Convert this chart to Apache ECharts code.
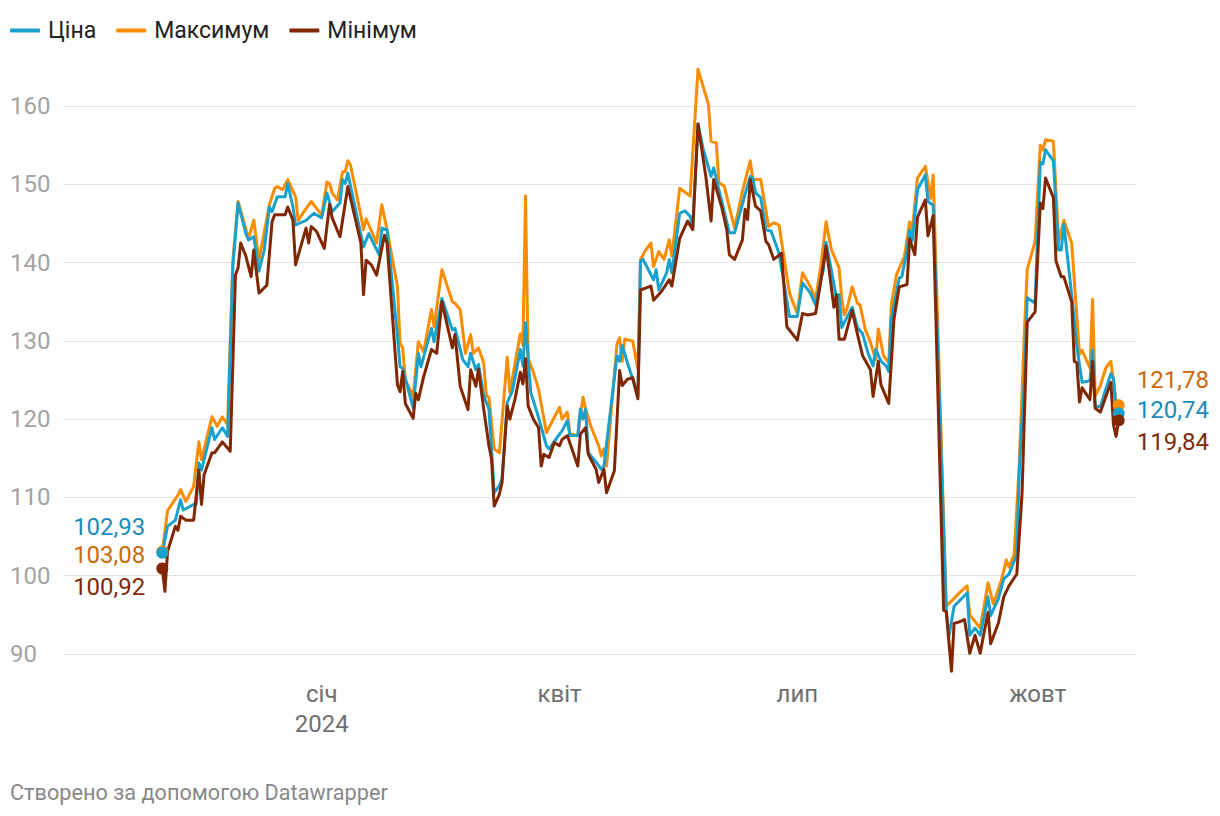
<!DOCTYPE html>
<html>
<head>
<meta charset="utf-8">
<script src="https://cdn.jsdelivr.net/npm/echarts@6/dist/echarts.min.js"></script>
<style>
  html, body { margin: 0; padding: 0; background: #fff; }
  #chart { width: 1220px; height: 816px; }
</style>
</head>
<body>
<div id="chart"></div>
<script>
// Ціна
const priceDates = ['2023-11-01','2023-11-03','2023-11-06','2023-11-08','2023-11-09','2023-11-13','2023-11-14','2023-11-15','2023-11-16','2023-11-20','2023-11-21','2023-11-24','2023-11-26','2023-11-28','2023-11-30','2023-12-03','2023-12-04','2023-12-06','2023-12-08','2023-12-10','2023-12-12','2023-12-13','2023-12-15','2023-12-18','2023-12-19','2023-12-21','2023-12-22','2023-12-26','2023-12-29',
  '2024-01-01','2024-01-03','2024-01-05','2024-01-08','2024-01-09','2024-01-10','2024-01-11','2024-01-17','2024-01-19','2024-01-23','2024-01-24','2024-01-26','2024-01-30','2024-01-31','2024-02-01','2024-02-05','2024-02-07','2024-02-08','2024-02-12','2024-02-13','2024-02-16','2024-02-20','2024-02-21','2024-02-24','2024-02-26','2024-02-27','2024-02-29',
  '2024-03-01','2024-03-03','2024-03-05','2024-03-06','2024-03-07','2024-03-09','2024-03-10','2024-03-12','2024-03-14','2024-03-17','2024-03-18','2024-03-19','2024-03-21','2024-03-23','2024-03-24','2024-03-27','2024-03-28','2024-04-01','2024-04-02','2024-04-04','2024-04-05','2024-04-08','2024-04-09','2024-04-10','2024-04-11','2024-04-12','2024-04-15','2024-04-17','2024-04-18','2024-04-23','2024-04-24','2024-04-25','2024-04-27',
  '2024-05-01','2024-05-02','2024-05-03','2024-05-07','2024-05-08','2024-05-09','2024-05-12','2024-05-13','2024-05-14','2024-05-17','2024-05-19','2024-05-21','2024-05-22','2024-05-24','2024-05-26','2024-05-29','2024-05-30','2024-06-01','2024-06-05','2024-06-07','2024-06-11','2024-06-13','2024-06-14','2024-06-15','2024-06-17','2024-06-19','2024-06-21','2024-06-24','2024-06-28',
  '2024-07-01','2024-07-03','2024-07-06','2024-07-08','2024-07-10','2024-07-11','2024-07-12','2024-07-14','2024-07-16','2024-07-17','2024-07-18','2024-07-20','2024-07-22','2024-07-24','2024-07-26','2024-07-28','2024-07-30','2024-07-31','2024-08-02','2024-08-04','2024-08-05','2024-08-06','2024-08-09','2024-08-10','2024-08-12','2024-08-13','2024-08-14','2024-08-16','2024-08-19','2024-08-20','2024-08-22','2024-08-27','2024-08-28','2024-08-30',
  '2024-09-04','2024-09-05','2024-09-07','2024-09-09','2024-09-12','2024-09-13','2024-09-16','2024-09-18','2024-09-20','2024-09-23','2024-09-24','2024-09-26','2024-09-27','2024-09-30','2024-10-02','2024-10-03','2024-10-04','2024-10-07','2024-10-09','2024-10-10','2024-10-11','2024-10-14','2024-10-16','2024-10-18','2024-10-21','2024-10-22','2024-10-23','2024-10-25','2024-10-27','2024-10-29','2024-10-30','2024-10-31','2024-11-01'];
const priceValues = [102.93,106.3,107.1,109.7,108.4,109.1,109.1,114.4,113.5,118.9,117.4,118.9,117.8,139.5,147.6,143.7,142.9,143.3,138.9,141.6,147.1,146.5,148.4,148.4,150.1,147.1,144.8,145.4,146.3,
  145.7,148.9,146.5,147.6,150.6,150.1,151.4,142.0,143.7,141.0,144.4,144.2,130.6,126.7,126.5,121.4,128.4,126.7,131.6,129.9,135.4,131.4,131.6,127.6,126.7,128.4,126.3,
  127.0,123.0,121.3,116.2,110.6,111.5,112.3,122.1,123.6,128.9,126.8,132.3,123.4,121.3,120.2,116.6,116.2,118.1,118.5,119.8,117.9,117.9,121.3,120.0,121.3,115.7,114.5,113.6,114.0,128.1,127.4,129.4,127.2,
  123.0,140.2,140.4,137.8,139.1,136.5,138.7,140.4,138.7,146.3,146.6,145.9,144.6,157.7,154.5,151.0,152.1,149.3,143.8,143.8,148.7,151.0,150.8,148.9,148.3,144.2,144.0,141.2,133.1,
  133.1,137.4,136.1,134.6,137.8,139.1,142.6,139.1,135.4,135.9,131.7,133.0,134.3,131.7,130.9,128.5,126.8,128.9,127.4,126.8,126.1,132.8,138.0,138.2,141.5,144.1,142.8,149.3,151.2,147.8,147.3,95.8,92.2,96.1,
  97.8,92.4,93.3,92.4,97.3,94.9,97.1,99.6,100.2,102.7,113.9,125.6,135.5,134.8,152.8,152.6,154.4,153.0,141.6,141.6,144.9,135.9,129.2,124.7,124.9,128.8,121.6,121.6,123.8,125.8,125.2,121.1,120.74];

// Максимум
const highDates = ['2023-11-01','2023-11-03','2023-11-05','2023-11-07','2023-11-08','2023-11-10','2023-11-13','2023-11-15','2023-11-16','2023-11-20','2023-11-22','2023-11-24','2023-11-26','2023-11-28','2023-11-30','2023-12-04','2023-12-06','2023-12-08','2023-12-12','2023-12-14','2023-12-15','2023-12-17','2023-12-19','2023-12-22','2023-12-23','2023-12-26','2023-12-28',
  '2024-01-01','2024-01-03','2024-01-04','2024-01-05','2024-01-07','2024-01-09','2024-01-10','2024-01-11','2024-01-12','2024-01-16','2024-01-17','2024-01-18','2024-01-22','2024-01-24','2024-01-26','2024-01-30','2024-01-31','2024-02-01','2024-02-02','2024-02-05','2024-02-07','2024-02-09','2024-02-12','2024-02-13','2024-02-16','2024-02-20','2024-02-21','2024-02-23','2024-02-25','2024-02-27','2024-02-28',
  '2024-03-01','2024-03-03','2024-03-04','2024-03-05','2024-03-07','2024-03-09','2024-03-12','2024-03-13','2024-03-17','2024-03-18','2024-03-19','2024-03-20','2024-03-22','2024-03-24','2024-03-27','2024-04-01','2024-04-02','2024-04-04','2024-04-05','2024-04-08','2024-04-10','2024-04-11','2024-04-13','2024-04-16','2024-04-17','2024-04-18','2024-04-19','2024-04-23','2024-04-24','2024-04-25','2024-04-26','2024-04-29',
  '2024-05-01','2024-05-02','2024-05-04','2024-05-06','2024-05-07','2024-05-09','2024-05-11','2024-05-13','2024-05-14','2024-05-17','2024-05-21','2024-05-24','2024-05-28','2024-05-29','2024-05-31','2024-06-01','2024-06-03','2024-06-07','2024-06-10','2024-06-13','2024-06-14','2024-06-17','2024-06-20','2024-06-22','2024-06-24','2024-06-28',
  '2024-07-01','2024-07-03','2024-07-06','2024-07-08','2024-07-10','2024-07-12','2024-07-14','2024-07-17','2024-07-18','2024-07-19','2024-07-20','2024-07-22','2024-07-24','2024-07-25','2024-07-27','2024-07-29','2024-07-31','2024-08-01','2024-08-03','2024-08-05','2024-08-06','2024-08-08','2024-08-11','2024-08-13','2024-08-14','2024-08-16','2024-08-19','2024-08-21','2024-08-22','2024-08-27','2024-08-30',
  '2024-09-01','2024-09-04','2024-09-05','2024-09-06','2024-09-09','2024-09-12','2024-09-14','2024-09-17','2024-09-19','2024-09-20','2024-09-22','2024-09-24','2024-09-26','2024-09-27','2024-09-30','2024-10-02','2024-10-03','2024-10-04','2024-10-07','2024-10-09','2024-10-11','2024-10-14','2024-10-17','2024-10-18','2024-10-21','2024-10-22','2024-10-23','2024-10-25','2024-10-27','2024-10-29','2024-10-31','2024-11-01'];
const highValues = [103.08,108.3,109.3,110.3,111.0,109.5,111.4,117.1,114.8,120.3,119.1,120.3,119.3,140.3,147.8,143.1,145.4,140.3,147.4,149.5,149.7,149.3,150.6,148.4,145.4,146.9,147.8,
  146.1,150.3,150.1,148.9,148.0,151.6,151.6,153.0,152.5,146.0,144.2,145.6,142.5,147.4,144.2,136.9,129.7,129.1,125.0,122.9,129.9,128.6,134.0,131.8,139.1,135.0,134.8,134.0,128.4,130.8,128.4,
  129.1,127.2,123.0,122.8,116.2,115.7,127.9,123.4,130.9,129.4,148.5,127.7,126.0,123.8,118.3,121.5,120.0,120.9,118.1,117.9,122.8,121.3,119.1,116.6,115.3,116.2,114.0,129.6,130.4,127.4,130.2,130.0,
  126.4,140.4,141.6,142.5,139.5,141.4,140.4,142.9,140.8,149.5,148.5,164.7,160.2,155.5,155.3,150.2,149.8,144.4,149.1,153.0,150.6,150.6,144.6,145.1,144.8,136.1,
  133.5,138.7,136.9,135.4,139.5,145.2,141.7,139.3,135.4,133.3,134.1,136.9,134.8,134.6,131.5,129.8,127.6,131.5,128.1,127.2,134.6,138.5,140.8,145.2,144.1,150.8,152.3,148.2,151.2,96.1,97.1,
  97.8,98.7,94.9,94.6,93.3,99.1,96.4,99.3,102.0,101.1,102.7,114.6,131.9,139.1,142.7,155.0,154.4,155.7,155.5,142.7,145.4,142.5,128.3,128.8,126.5,135.3,122.9,124.3,126.5,127.4,122.2,121.78];

// Мінімум
const lowDates = ['2023-11-01','2023-11-02','2023-11-03','2023-11-06','2023-11-07','2023-11-08','2023-11-10','2023-11-13','2023-11-15','2023-11-16','2023-11-17','2023-11-20','2023-11-21','2023-11-24','2023-11-27','2023-11-29','2023-11-30','2023-12-01','2023-12-03','2023-12-05','2023-12-06','2023-12-08','2023-12-11','2023-12-13','2023-12-14','2023-12-18','2023-12-19','2023-12-21','2023-12-22','2023-12-26','2023-12-27','2023-12-28','2023-12-30',
  '2024-01-02','2024-01-04','2024-01-05','2024-01-08','2024-01-11','2024-01-16','2024-01-17','2024-01-18','2024-01-20','2024-01-22','2024-01-25','2024-01-26','2024-01-30','2024-01-31','2024-02-01','2024-02-02','2024-02-05','2024-02-06','2024-02-07','2024-02-09','2024-02-12','2024-02-14','2024-02-16','2024-02-20','2024-02-21','2024-02-23','2024-02-26','2024-02-27','2024-02-29',
  '2024-03-01','2024-03-03','2024-03-05','2024-03-06','2024-03-07','2024-03-09','2024-03-10','2024-03-12','2024-03-13','2024-03-15','2024-03-17','2024-03-18','2024-03-19','2024-03-20','2024-03-22','2024-03-24','2024-03-25','2024-03-26','2024-03-28','2024-03-30','2024-04-01','2024-04-02','2024-04-04','2024-04-08','2024-04-09','2024-04-11','2024-04-12','2024-04-15','2024-04-16','2024-04-18','2024-04-19','2024-04-22','2024-04-24','2024-04-25','2024-04-27','2024-04-29',
  '2024-05-01','2024-05-02','2024-05-06','2024-05-07','2024-05-10','2024-05-13','2024-05-14','2024-05-17','2024-05-20','2024-05-22','2024-05-24','2024-05-27','2024-05-29','2024-05-30','2024-06-02','2024-06-04','2024-06-05','2024-06-07','2024-06-10','2024-06-11','2024-06-12','2024-06-13','2024-06-15','2024-06-17','2024-06-19','2024-06-20','2024-06-22','2024-06-25','2024-06-27',
  '2024-07-01','2024-07-03','2024-07-05','2024-07-08','2024-07-10','2024-07-12','2024-07-15','2024-07-16','2024-07-17','2024-07-19','2024-07-22','2024-07-24','2024-07-26','2024-07-29','2024-07-30','2024-08-01','2024-08-02','2024-08-05','2024-08-07','2024-08-09','2024-08-12','2024-08-13','2024-08-15','2024-08-16','2024-08-19','2024-08-20','2024-08-22','2024-08-26','2024-08-27','2024-08-29','2024-08-30',
  '2024-09-01','2024-09-03','2024-09-05','2024-09-07','2024-09-09','2024-09-10','2024-09-12','2024-09-13','2024-09-16','2024-09-18','2024-09-20','2024-09-23','2024-09-25','2024-09-27','2024-09-30','2024-10-02','2024-10-03','2024-10-04','2024-10-07','2024-10-08','2024-10-10','2024-10-11','2024-10-14','2024-10-15','2024-10-16','2024-10-17','2024-10-18','2024-10-21','2024-10-22','2024-10-23','2024-10-25','2024-10-29','2024-10-30','2024-10-31','2024-11-01'];
const lowValues = [100.92,98.0,103.1,106.3,105.8,107.6,107.1,107.1,113.5,109.1,112.9,115.7,115.7,117.1,115.9,138.4,139.3,142.5,140.8,138.2,141.6,136.1,137.1,145.2,146.1,146.1,147.1,145.4,139.7,144.4,142.5,144.6,144.0,
  141.8,147.4,145.7,143.3,149.7,142.5,135.9,140.3,139.7,138.4,143.5,142.5,124.4,123.5,126.1,122.0,120.1,123.3,122.5,125.4,128.9,128.4,135.0,129.1,130.8,124.2,121.2,126.3,124.2,
  126.4,121.3,116.6,114.9,108.9,110.4,111.9,121.7,120.0,122.6,126.0,124.5,127.7,121.7,120.0,118.9,114.0,115.5,115.1,117.0,116.6,117.4,117.9,114.0,118.1,118.9,115.5,113.6,111.9,113.6,110.6,113.4,126.2,124.3,125.1,125.3,
  122.6,136.5,137.0,135.2,136.3,137.8,137.0,143.1,145.3,144.2,157.7,151.0,145.3,150.6,147.2,144.2,141.0,140.4,142.9,146.8,145.5,150.6,147.2,146.6,142.7,142.3,140.4,141.2,131.8,
  130.1,133.5,133.3,133.5,137.6,142.1,134.3,135.9,130.2,130.2,133.9,130.9,128.1,126.3,122.9,127.4,124.4,122.0,132.8,136.9,137.2,143.0,141.0,145.8,148.0,143.4,146.0,95.6,95.4,87.8,93.9,
  94.1,94.4,90.1,92.4,90.1,91.9,95.3,91.3,94.0,97.3,98.7,100.2,110.4,132.4,133.7,147.6,146.9,150.8,148.3,140.2,138.2,138.2,135.0,127.4,127.2,122.2,124.0,122.5,127.4,121.4,120.9,124.7,119.3,117.8,119.84];

const quarterLabels = { 0: 'січ', 3: 'квіт', 6: 'лип', 9: 'жовт' };

const FONT = 'Roboto, "Noto Sans", sans-serif';
const fmt = v => v.toFixed(2).replace('.', ',');
const firstDay = echarts.time.parse(priceDates[0]).getTime();
const lastDay = echarts.time.parse(priceDates[priceDates.length - 1]).getTime();

const pairs = (dates, values) => dates.map((d, i) => [d, values[i]]);

const endMarks = (dates, values, color, textColor, z, startDy, endDy) => ({
  symbol: 'circle',
  symbolSize: 12,
  z: z,
  itemStyle: { color: color },
  label: {
    show: true,
    color: textColor,
    fontFamily: FONT,
    fontSize: 24,
    formatter: p => fmt(p.value)
  },
  data: [
    { coord: [dates[0], values[0]], value: values[0],
      label: { position: 'left', distance: 11, offset: [0, startDy] } },
    { coord: [dates[dates.length - 1], values[values.length - 1]], value: values[values.length - 1],
      label: { position: 'right', distance: 12, offset: [0, endDy] } }
  ]
});

const lineSeries = (name, dates, values, color, textColor, z, startDy, endDy) => ({
  name: name,
  type: 'line',
  data: pairs(dates, values),
  showSymbol: false,
  clip: false,
  z: z,
  color: color,
  lineStyle: { width: 3, color: color, join: 'round' },
  emphasis: { disabled: true },
  markPoint: endMarks(dates, values, color, textColor, z + 5, startDy, endDy)
});

const chart = echarts.init(document.getElementById('chart'), null, { renderer: 'svg' });

chart.setOption({
  backgroundColor: '#fff',
  animation: false,
  textStyle: { fontFamily: FONT },
  title: {
    text: 'Створено за допомогою Datawrapper',
    left: 10,
    top: 781,
    padding: 0,
    textStyle: { fontFamily: FONT, fontSize: 21.7, fontWeight: 'normal', color: '#888' }
  },
  legend: {
    left: 10,
    top: 19,
    padding: 0,
    itemWidth: 30,
    itemHeight: 4,
    itemGap: 20,
    icon: 'roundRect',
    data: ['Ціна', 'Максимум', 'Мінімум'],
    textStyle: { fontFamily: FONT, fontSize: 23, color: '#222', padding: [0, 0, 0, 3] }
  },
  grid: { left: 63, right: 83, top: 106, bottom: 162, containLabel: false },
  xAxis: {
    type: 'time',
    min: '2023-09-24',
    max: '2024-11-08',
    minInterval: 28 * 24 * 3600 * 1000,
    maxInterval: 31 * 24 * 3600 * 1000,
    axisLine: { show: false },
    axisTick: { show: false },
    splitLine: { show: false },
    axisLabel: {
      margin: 25,
      color: '#6f6f6f',
      fontFamily: FONT,
      fontSize: 24,
      lineHeight: 30,
      hideOverlap: false,
      formatter: value => {
        const d = new Date(value);
        if (value < firstDay || value > lastDay || d.getDate() !== 1) return '';
        const name = quarterLabels[d.getMonth()];
        if (!name) return '';
        return d.getMonth() === 0 ? name + '\n' + d.getFullYear() : name;
      }
    }
  },
  yAxis: {
    type: 'value',
    min: 90,
    max: 160,
    interval: 10,
    axisLine: { show: false },
    axisTick: { show: false },
    axisLabel: {
      align: 'left',
      margin: 53,
      color: '#a3a3a3',
      fontFamily: FONT,
      fontSize: 24
    },
    splitLine: { lineStyle: { color: '#e3e3e3', width: 1 } }
  },
  series: [
    lineSeries('Ціна', priceDates, priceValues, '#18a1cd', '#1a8cb6', 3, -26, -3),
    lineSeries('Максимум', highDates, highValues, '#fa8c00', '#c96a0c', 2, 3, -25),
    lineSeries('Мінімум', lowDates, lowValues, '#802700', '#7e2a07', 4, 18, 22)
  ]
});
</script>
</body>
</html>
